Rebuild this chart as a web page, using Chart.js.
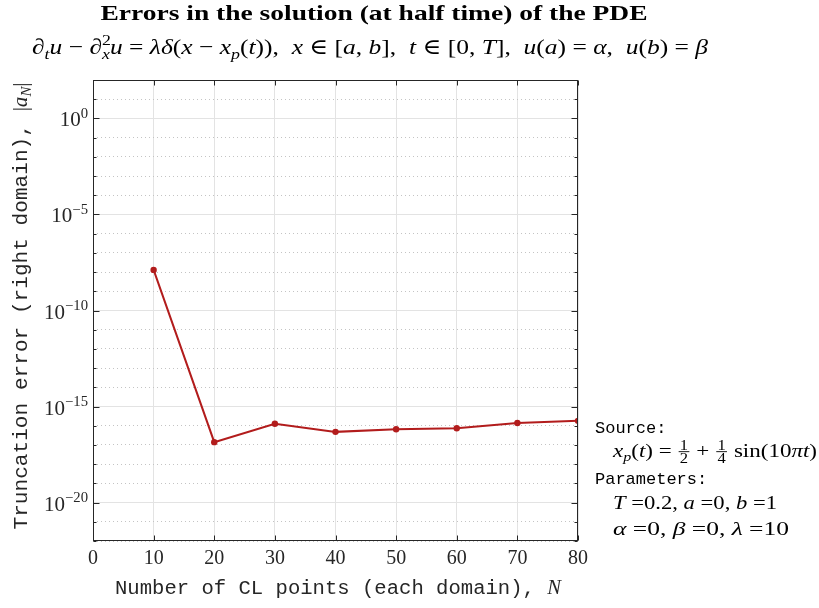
<!DOCTYPE html>
<html>
<head>
<meta charset="utf-8">
<title>Errors in the solution</title>
<script src="https://cdn.jsdelivr.net/npm/chart.js@4/dist/chart.umd.min.js"></script>
<style>
  html, body { margin: 0; padding: 0; background: #fff; }
  #wrap { width: 819px; height: 608px; }
</style>
</head>
<body>
<div id="wrap"><canvas id="errChart" width="819" height="608"></canvas></div>
<script>
// Data
const cl_points = [10, 20, 30, 40, 50, 60, 70, 80];
const trunc_error = [1.3e-8, 1.4e-17, 1.26e-16, 4.8e-17, 6.6e-17, 7.4e-17, 1.4e-16, 1.8e-16];

// Axis ticks
const x_ticks = [0, 10, 20, 30, 40, 50, 60, 70, 80];
const y_decades = [2, 1, 0, -1, -2, -3, -4, -5, -6, -7, -8, -9, -10, -11, -12,
                   -13, -14, -15, -16, -17, -18, -19, -20, -21, -22];
const y_labels = [0, -5, -10, -15, -20];

const SERIF = '"Liberation Serif", "DejaVu Serif", serif';
const MONO = '"Liberation Mono", "DejaVu Sans Mono", monospace';
const LINE_RED = '#b21c1c';
const AXIS_COL = '#262626';

// --- small rich text helper (italic, sub/superscripts, fractions) ---
function fontOf(run, size) {
    let s = size;
    if (run.f.includes('_') || run.f.includes('^')) s = size * 0.7;
    if (run.frac) s = size * 0.72;
    return (run.f.includes('i') ? 'italic ' : '') + (run.f.includes('b') ? 'bold ' : '') +
        s.toFixed(1) + 'px ' + (run.f.includes('m') ? MONO : SERIF);
}

function toRuns(list) {
    return list.map(r => Array.isArray(r) ? { t: r[0], f: r[1] || '' } : r);
}

function runWidth(ctx, r, size) {
    ctx.font = fontOf(r, size);
    if (r.frac) {
        return Math.max(ctx.measureText(r.frac[0]).width, ctx.measureText(r.frac[1]).width) + 4;
    }
    return r.f.includes('k') ? 0 : ctx.measureText(r.t).width;
}

function drawRich(ctx, list, x, y, opts) {
    const runs = toRuns(list);
    const size = opts.size;
    let w = 0;
    runs.forEach(r => { w += runWidth(ctx, r, size); });
    const sx = opts.width ? opts.width / w : 1;
    ctx.save();
    ctx.translate(x, y);
    if (opts.rotate) ctx.rotate(opts.rotate);
    const start = opts.align === 'center' ? -w * sx / 2 : (opts.align === 'right' ? -w * sx : 0);
    ctx.translate(start, 0);
    ctx.scale(sx, 1);
    ctx.fillStyle = opts.color || '#000';
    ctx.strokeStyle = opts.color || '#000';
    ctx.textAlign = 'left';
    ctx.textBaseline = 'alphabetic';
    let cx = 0;
    runs.forEach(r => {
        ctx.font = fontOf(r, size);
        if (r.frac) {
            const fw = runWidth(ctx, r, size);
            const mid = -size * 0.28;
            ctx.textAlign = 'center';
            ctx.fillText(r.frac[0], cx + fw / 2, mid - 2);
            ctx.fillText(r.frac[1], cx + fw / 2, mid + size * 0.58);
            ctx.textAlign = 'left';
            ctx.lineWidth = 0.9;
            ctx.beginPath();
            ctx.moveTo(cx + 1, mid);
            ctx.lineTo(cx + fw - 1, mid);
            ctx.stroke();
            cx += fw;
            return;
        }
        let dy = 0;
        if (r.f.includes('_')) dy = size * 0.22;
        if (r.f.includes('^')) dy = -size * 0.4;
        ctx.fillText(r.t, cx, dy);
        if (!r.f.includes('k')) cx += ctx.measureText(r.t).width;
    });
    ctx.restore();
}

// --- decorations: titles, box, inward ticks, y tick labels, notes ---
const decorPlugin = {
    id: 'decor',
    afterDraw(chart) {
        const ctx = chart.ctx;
        const area = chart.chartArea;
        const xs = chart.scales.x;
        const ys = chart.scales.y;
        const L = Math.round(area.left) + 0.5, R = Math.round(area.right) - 0.5;
        const T = Math.round(area.top) + 0.5, B = Math.round(area.bottom) - 0.5;

        ctx.save();
        ctx.strokeStyle = AXIS_COL;
        ctx.lineWidth = 1;
        ctx.strokeRect(L, T, R - L, B - T);

        ctx.beginPath();
        x_ticks.forEach(v => {
            const px = Math.round(xs.getPixelForValue(v)) + 0.5;
            ctx.moveTo(px, B); ctx.lineTo(px, B - 5);
            ctx.moveTo(px, T); ctx.lineTo(px, T + 5);
        });
        y_decades.forEach(e => {
            const py = Math.round(ys.getPixelForValue(Math.pow(10, e))) + 0.5;
            const len = (e % 5 === 0) ? 6 : 3;
            ctx.moveTo(L, py); ctx.lineTo(L + len, py);
            ctx.moveTo(R, py); ctx.lineTo(R - len, py);
        });
        ctx.stroke();
        ctx.restore();

        // y tick labels 10^e
        y_labels.forEach(e => {
            const py = ys.getPixelForValue(Math.pow(10, e));
            drawRich(ctx, [['10', ''], [e === 0 ? '0' : '\u2212' + Math.abs(e), '^']],
                88, py + 8, { size: 21, align: 'right', color: AXIS_COL });
        });

        // title and equation
        drawRich(ctx, [['Errors in the solution (at half time) of the PDE', 'b']],
            374, 20, { size: 22, align: 'center', width: 547 });
        drawRich(ctx, [
            ['\u2202', 'i'], ['t', 'i_'], ['u', 'i'], [' \u2212 '], ['\u2202', 'i'], ['2', '^k'], ['x', 'i_'], ['u', 'i'],
            [' = '], ['\u03bb\u03b4', 'i'], ['('], ['x', 'i'], [' \u2212 '], ['x', 'i'], ['p', 'i_'], ['('], ['t', 'i'],
            [')),  '], ['x', 'i'], [' \u2208 ['], ['a', 'i'], [', '], ['b', 'i'], ['],  '], ['t', 'i'],
            [' \u2208 [0, '], ['T', 'i'], ['],  '], ['u', 'i'], ['('], ['a', 'i'], [') = '], ['\u03b1', 'i'],
            [',  '], ['u', 'i'], ['('], ['b', 'i'], [') = '], ['\u03b2', 'i']
        ], 32, 54, { size: 22, align: 'left', width: 676 });

        // axis titles
        drawRich(ctx, [['Number of CL points (each domain), ', 'm'], ['N', 'i']],
            338, 594, { size: 20, align: 'center', width: 446, color: AXIS_COL });
        drawRich(ctx, [['Truncation error (right domain), ', 'm'], ['|'], ['a', 'i'], ['N', 'i_'], ['|']],
            27, 306, { size: 20, align: 'center', width: 447, rotate: -Math.PI / 2, color: AXIS_COL });

        // notes at right
        drawRich(ctx, [['Source:', 'm']], 595, 433, { size: 17 });
        drawRich(ctx, [['x', 'i'], ['p', 'i_'], ['('], ['t', 'i'], [') = '], { frac: ['1', '2'], f: '' },
            [' + '], { frac: ['1', '4'], f: '' }, [' sin(10'], ['\u03c0', 'i'], ['t', 'i'], [')']],
            613, 457, { size: 19, width: 204 });
        drawRich(ctx, [['Parameters:', 'm']], 595, 484, { size: 17 });
        drawRich(ctx, [['T', 'i'], [' =0.2, '], ['a', 'i'], [' =0, '], ['b', 'i'], [' =1']],
            613, 509, { size: 19, width: 164 });
        drawRich(ctx, [['\u03b1', 'i'], [' =0, '], ['\u03b2', 'i'], [' =0, '], ['\u03bb', 'i'], [' =10']],
            613, 535, { size: 19, width: 176 });
    }
};

function isMajor(v) {
    const e = Math.round(Math.log10(v));
    return e % 5 === 0;
}

const ctx = document.getElementById('errChart').getContext('2d');
new Chart(ctx, {
    type: 'line',
    data: {
        datasets: [{
            data: cl_points.map((n, i) => ({ x: n, y: trunc_error[i] })),
            borderColor: LINE_RED,
            backgroundColor: LINE_RED,
            borderWidth: 2,
            pointRadius: 3.2,
            pointBorderWidth: 0,
            pointBackgroundColor: LINE_RED,
            tension: 0
        }]
    },
    options: {
        responsive: false,
        animation: false,
        layout: { padding: { left: 0, top: 80, right: 241, bottom: 0 } },
        plugins: {
            legend: { display: false },
            tooltip: { enabled: false },
            title: { display: false }
        },
        scales: {
            x: {
                type: 'linear',
                min: 0,
                max: 80,
                afterBuildTicks: s => { s.ticks = x_ticks.map(v => ({ value: v })); },
                afterFit: s => { s.height = 67; },
                grid: { color: '#e3e3e3', lineWidth: 1, drawTicks: false },
                border: { display: false },
                ticks: {
                    autoSkip: false,
                    maxRotation: 0,
                    padding: 6,
                    color: AXIS_COL,
                    font: { family: SERIF, size: 20 }
                }
            },
            y: {
                type: 'logarithmic',
                min: 1e-22,
                max: 1e2,
                afterBuildTicks: s => { s.ticks = y_decades.map(e => ({ value: Math.pow(10, e) })); },
                afterFit: s => { s.width = 93; },
                grid: {
                    drawTicks: false,
                    lineWidth: 1,
                    color: c => (c.tick && isMajor(c.tick.value)) ? '#e3e3e3' : '#c4c4c4'
                },
                border: {
                    display: false,
                    dash: c => (c.tick && !isMajor(c.tick.value)) ? [1, 3] : []
                },
                ticks: { display: false }
            }
        }
    },
    plugins: [decorPlugin]
});
</script>
</body>
</html>
